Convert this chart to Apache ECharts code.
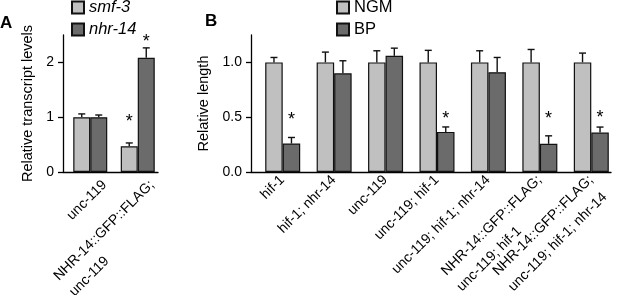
<!DOCTYPE html>
<html>
<head>
<meta charset="utf-8">
<script src="https://cdn.jsdelivr.net/npm/echarts@6/dist/echarts.min.js"></script>
<style>
  html, body { margin: 0; padding: 0; background: #fff; }
  #chart { width: 617px; height: 295px; }
</style>
</head>
<body>
<div id="chart"></div>
<script>
// Panel A : transcript levels
const catsA = ['unc-119', 'NHR-14::GFP::FLAG;\nunc-119'];
const smf3 = [1.0, 0.47];
const smf3Err = [0.06, 0.06];
const nhr14 = [1.0, 2.085];
const nhr14Err = [0.04, 0.18];
const starsA = [[1, 0, 1.0], [1, 1, 2.47]]; // [category, bar, y]
const ticksA = [0, 1, 2];

// Panel B : relative length
const catsB = ['hif-1', 'hif-1; nhr-14', 'unc-119', 'unc-119; hif-1', 'unc-119; hif-1; nhr-14',
  'NHR-14::GFP::FLAG;\nunc-119; hif-1', 'NHR-14::GFP::FLAG;\nunc-119; hif-1; nhr-14'];
const ngm = [1.0, 1.0, 1.0, 1.0, 1.0, 1.0, 1.0];
const ngmErr = [0.045, 0.094, 0.106, 0.11, 0.106, 0.118, 0.085];
const bp = [0.26, 0.90, 1.06, 0.366, 0.91, 0.257, 0.36];
const bpErr = [0.055, 0.115, 0.07, 0.045, 0.135, 0.073, 0.05];
const starsB = [[0, 1, 0.52], [3, 1, 0.53], [5, 1, 0.53], [6, 1, 0.54]];
const ticksB = [0, 0.5, 1];

const font = '"Liberation Sans", Arial, Helvetica, sans-serif';
const light = '#c0c0c0';
const dark = '#6b6b6b';

// bar geometry (pad series pushes the pair a little to the right, like the original)
const geomA = { pad: 7, bar: 17 };
const geomB = { pad: 12, bar: 17.5 };

function barOffset(g, k) {
  return -(g.pad + 2 * g.bar) / 2 + g.pad + g.bar * (k + 0.5);
}

function errData(means, errs, k) {
  return means.map((v, i) => [i, v, errs[i], k]);
}

function errRender(g) {
  return function (params, api) {
    const cat = api.value(0), v = api.value(1), e = api.value(2), k = api.value(3);
    const p0 = api.coord([cat, v]);
    const p1 = api.coord([cat, v + e]);
    const x = p0[0] + barOffset(g, k);
    const st = { stroke: '#111', lineWidth: 1.4 };
    return {
      type: 'group',
      children: [
        { type: 'line', shape: { x1: x, y1: p0[1], x2: x, y2: p1[1] }, style: st },
        { type: 'line', shape: { x1: x - 3.5, y1: p1[1], x2: x + 3.5, y2: p1[1] }, style: st }
      ]
    };
  };
}

function starRender(g) {
  return function (params, api) {
    const cat = api.value(0), k = api.value(1), y = api.value(2);
    const p = api.coord([cat, y]);
    return {
      type: 'text',
      x: p[0] + barOffset(g, k),
      y: p[1] + 5,
      style: { text: '*', fontSize: 18, fontFamily: font, fill: '#000', align: 'center', verticalAlign: 'middle' }
    };
  };
}

// lines stay left-aligned inside the rotated block, with a small spacer between them
function labelFmt(v) {
  return v.split('\n').map(s => '{l|' + s + '}').join('\n{s|}\n');
}

function xAxisCfg(cats, grid, pad, margin) {
  return {
    type: 'category', gridIndex: grid, data: cats,
    axisLine: { lineStyle: { color: '#000', width: 1.3 } },
    axisTick: { show: false },
    axisLabel: {
      interval: 0, rotate: 45, margin: margin,
      align: 'right', verticalAlign: 'top',
      padding: [pad, 0, 0, 0],
      formatter: labelFmt,
      color: '#000', fontSize: 14, fontFamily: font, lineHeight: 16,
      rich: {
        l: { align: 'left', fontSize: 14, fontFamily: font, color: '#000', lineHeight: 16 },
        s: { align: 'left', fontSize: 6, lineHeight: 6 }
      }
    }
  };
}

function yAxisCfg(grid, max, ticks, name, gap, fmt) {
  return {
    type: 'value', gridIndex: grid, min: 0, max: max,
    name: name, nameLocation: 'middle', nameGap: gap,
    nameTextStyle: { fontSize: 14.5, fontFamily: font, color: '#000' },
    splitLine: { show: false },
    axisLine: { show: true, lineStyle: { color: '#000', width: 1.3 } },
    axisTick: { show: true, length: 5, customValues: ticks, lineStyle: { color: '#000', width: 1.3 } },
    axisLabel: { customValues: ticks, margin: 9, fontSize: 14, fontFamily: font, color: '#000', formatter: fmt }
  };
}

const chart = echarts.init(document.getElementById('chart'), null, { renderer: 'canvas' });

const barStyle = c => ({ color: c, borderColor: '#111', borderWidth: 1.2 });

const option = {
  backgroundColor: '#fff',
  animation: false,
  title: [
    { text: 'A', left: 0, top: 15, padding: 0, textStyle: { fontSize: 17, fontWeight: 'bold', fontFamily: font, color: '#000' } },
    { text: 'B', left: 205, top: 13, padding: 0, textStyle: { fontSize: 17, fontWeight: 'bold', fontFamily: font, color: '#000' } }
  ],
  legend: [
    {
      orient: 'vertical', left: 71, top: -1, padding: 0, itemGap: 5, itemWidth: 12, itemHeight: 12,
      icon: 'rect', data: ['smf-3', 'nhr-14'],
      textStyle: { fontSize: 16.5, fontStyle: 'italic', fontFamily: font, color: '#000' }
    },
    {
      orient: 'vertical', left: 336, top: -1, padding: 0, itemGap: 5, itemWidth: 12, itemHeight: 12,
      icon: 'rect', data: ['NGM', 'BP'],
      textStyle: { fontSize: 16.5, fontFamily: font, color: '#000' }
    }
  ],
  grid: [
    { left: 63, top: 35, width: 95, height: 137, outerBoundsMode: 'none' },
    { left: 251, top: 35, width: 360, height: 137, outerBoundsMode: 'none' }
  ],
  xAxis: [
    xAxisCfg(catsA, 0, 17, -7),
    xAxisCfg(catsB, 1, 0, 0)
  ],
  yAxis: [
    yAxisCfg(0, 2.5, ticksA, 'Relative transcript levels', 28, v => String(v)),
    yAxisCfg(1, 1.25, ticksB, 'Relative length', 28, v => v.toFixed(1))
  ],
  series: [
    { name: 'padA', type: 'bar', xAxisIndex: 0, yAxisIndex: 0, barWidth: geomA.pad, barGap: '0%',
      data: catsA.map(() => 0), itemStyle: { color: 'transparent' }, silent: true },
    { name: 'smf-3', type: 'bar', xAxisIndex: 0, yAxisIndex: 0, barWidth: geomA.bar, barGap: '0%',
      data: smf3, itemStyle: barStyle(light) },
    { name: 'nhr-14', type: 'bar', xAxisIndex: 0, yAxisIndex: 0, barWidth: geomA.bar, barGap: '0%',
      data: nhr14, itemStyle: barStyle(dark) },
    { type: 'custom', xAxisIndex: 0, yAxisIndex: 0, renderItem: errRender(geomA),
      data: errData(smf3, smf3Err, 0).concat(errData(nhr14, nhr14Err, 1)) },
    { type: 'custom', xAxisIndex: 0, yAxisIndex: 0, renderItem: starRender(geomA), data: starsA },

    { name: 'padB', type: 'bar', xAxisIndex: 1, yAxisIndex: 1, barWidth: geomB.pad, barGap: '0%',
      data: catsB.map(() => 0), itemStyle: { color: 'transparent' }, silent: true },
    { name: 'NGM', type: 'bar', xAxisIndex: 1, yAxisIndex: 1, barWidth: geomB.bar, barGap: '0%',
      data: ngm, itemStyle: barStyle(light) },
    { name: 'BP', type: 'bar', xAxisIndex: 1, yAxisIndex: 1, barWidth: geomB.bar, barGap: '0%',
      data: bp, itemStyle: barStyle(dark) },
    { type: 'custom', xAxisIndex: 1, yAxisIndex: 1, renderItem: errRender(geomB),
      data: errData(ngm, ngmErr, 0).concat(errData(bp, bpErr, 1)) },
    { type: 'custom', xAxisIndex: 1, yAxisIndex: 1, renderItem: starRender(geomB), data: starsB }
  ]
};

chart.setOption(option);
</script>
</body>
</html>
